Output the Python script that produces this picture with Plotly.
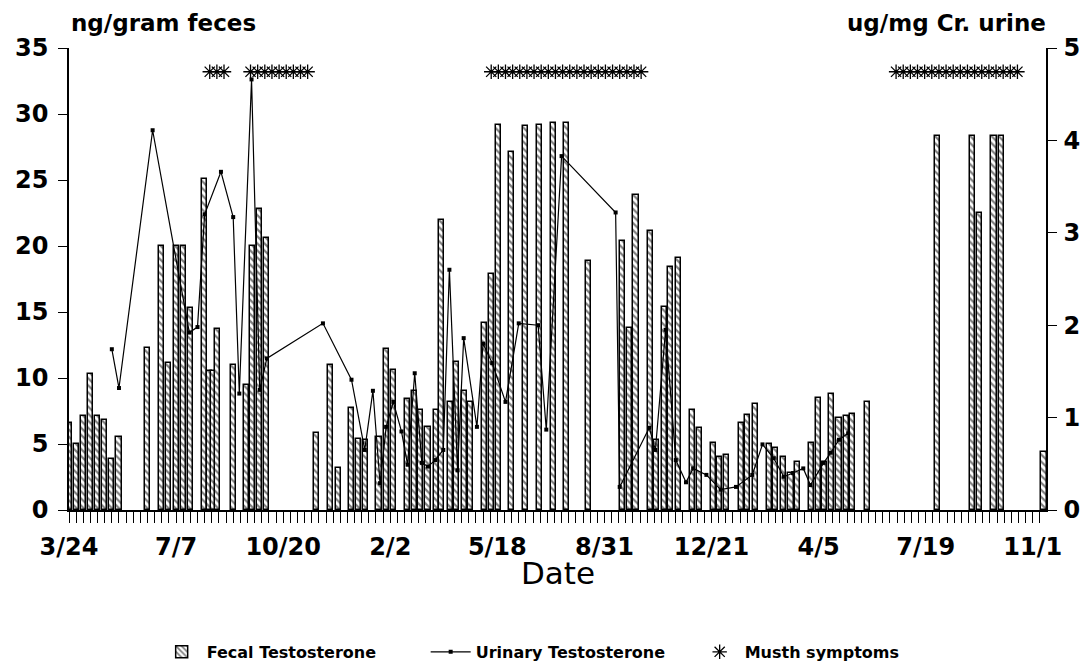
import plotly.graph_objects as go

# Date labels along the x axis (every 15 weeks) and their day offsets from 3/24
tick_days = [0, 105, 210, 315, 420, 525, 630, 735, 840, 945]
tick_labels = ["3/24", "7/7", "10/20", "2/2", "5/18", "8/31", "12/21", "4/5", "7/19", "11/1"]

# Fecal testosterone (ng/gram feces): sample day and value
fecal_days = [0, 7, 14, 21, 28, 35, 42, 49,
              77, 91, 98, 105, 112, 119, 133, 138, 142, 146, 161, 174, 180, 187, 194,
              243, 256, 264, 277, 284, 291, 304, 311, 318, 332, 339, 345, 352, 360, 365,
              374, 380, 388, 394, 407, 414, 421, 434, 448, 461, 475, 488, 509,
              543, 550, 556, 570, 576, 584, 590, 598, 611, 618, 632, 638, 645, 659, 665,
              673, 687, 693, 701, 708, 714, 728, 735, 741, 748, 755, 762, 768, 783,
              852, 886, 893, 907, 914, 956]
fecal_values = [6.6, 5.0, 7.1, 10.3, 7.1, 6.8, 3.9, 5.5,
                12.3, 20.0, 11.1, 20.0, 20.0, 15.3, 25.1, 10.5, 10.5, 13.7, 11.0, 9.5, 20.0, 22.8, 20.6,
                5.8, 11.0, 3.2, 7.7, 5.4, 5.3, 5.5, 12.2, 10.6, 8.4, 9.0, 7.6, 6.3, 7.6, 22.0,
                8.2, 11.2, 9.0, 8.2, 14.2, 17.9, 29.2, 27.1, 29.1, 29.2, 29.3, 29.3, 18.9,
                20.4, 13.8, 23.9, 21.1, 5.3, 15.4, 18.4, 19.1, 7.6, 6.2, 5.1, 4.0, 4.2, 6.6, 7.2,
                8.0, 5.0, 4.7, 4.0, 2.8, 3.6, 5.1, 8.5, 3.6, 8.8, 7.0, 7.1, 7.3, 8.2,
                28.3, 28.3, 22.5, 28.3, 28.3, 4.4]

# Urinary testosterone (ug/mg Cr. urine): sample day and value
urine_days = [42, 49, 82, 118, 126, 133, 149, 161, 167, 179, 187, 194,
              249, 277, 290, 298, 305, 311, 318, 326, 332, 339, 346, 352, 359, 367,
              373, 381, 387, 400, 406, 415, 428, 441, 460, 468, 483,
              536, 540, 569, 575, 585, 595, 605, 612, 625, 639, 654, 670, 680, 691,
              701, 710, 720, 727, 740, 747, 755, 764]
urine_values = [1.74, 1.32, 4.11, 1.92, 1.98, 3.20, 3.66, 3.17, 1.26, 4.66, 1.30, 1.64,
                2.02, 1.41, 0.65, 1.29, 0.29, 0.90, 1.17, 0.85, 0.49, 1.48, 0.51, 0.47, 0.54, 0.65,
                2.60, 0.43, 1.86, 0.90, 1.80, 1.59, 1.17, 2.02, 2.00, 0.87, 3.83,
                3.22, 0.25, 0.89, 0.65, 1.95, 0.54, 0.30, 0.45, 0.38, 0.22, 0.25, 0.38, 0.71, 0.56,
                0.36, 0.40, 0.45, 0.27, 0.51, 0.62, 0.76, 0.83]

# Weeks with musth symptoms
musth_days = ([138, 145, 152]
              + [178, 185, 192, 199, 206, 213, 220, 227, 234]
              + [414, 421, 428, 435, 442, 449, 456, 463, 470, 477, 484, 491,
                 498, 505, 512, 519, 526, 533, 540, 547, 554, 561]
              + [811, 818, 825, 832, 839, 846, 853, 860, 867, 874, 881, 888,
                 895, 902, 909, 916, 923, 930])
musth_level = 33.2

FONT = "DejaVu Sans"
INK = "black"

fig = go.Figure()

fig.add_trace(go.Bar(
    x=fecal_days, y=fecal_values, width=5,
    name="Fecal Testosterone",
    marker=dict(
        color="white",
        line=dict(color=INK, width=1.5),
        pattern=dict(shape="\\", fgcolor=INK, bgcolor="white", size=5, solidity=0.45),
    ),
    yaxis="y",
))

fig.add_trace(go.Scatter(
    x=urine_days, y=urine_values, mode="lines+markers",
    name="Urinary Testosterone",
    line=dict(color=INK, width=1.2),
    marker=dict(symbol="square", size=4, color=INK),
    yaxis="y2",
))

fig.add_trace(go.Scatter(
    x=musth_days, y=[musth_level] * len(musth_days), mode="markers",
    name="Musth symptoms",
    marker=dict(symbol="asterisk", size=12, line=dict(color=INK, width=1.3), color=INK),
    yaxis="y",
    cliponaxis=False,
))

tick_font = dict(family=FONT, size=24, color=INK, weight="bold")
title_font = dict(family=FONT, size=23, color=INK, weight="bold")

fig.update_layout(
    width=1088, height=670,
    margin=dict(l=69, r=42, t=48, b=160, autoexpand=False),
    paper_bgcolor="white", plot_bgcolor="white",
    bargap=0, barmode="overlay",
    showlegend=True,
    legend=dict(
        orientation="h", xref="container", yref="container",
        x=0.144, y=0.027, xanchor="left", yanchor="middle",
        font=dict(family=FONT, size=16, color=INK, weight="bold"),
        entrywidth=214, itemwidth=40,
        bgcolor="rgba(0,0,0,0)",
    ),
    xaxis=dict(
        range=[0, 958], automargin=False,
        tickmode="array", tickvals=tick_days, ticktext=tick_labels,
        ticks="outside", ticklen=11, tickwidth=1.3, tickcolor=INK,
        minor=dict(tickmode="linear", tick0=0, dtick=7, ticks="outside",
                   ticklen=11, tickwidth=1.3, tickcolor=INK, showgrid=False),
        showline=True, linecolor=INK, linewidth=1.5,
        showgrid=False, zeroline=False,
        tickfont=tick_font, ticklabelstandoff=3,
    ),
    yaxis=dict(
        range=[0, 35], automargin=False,
        tickmode="array", tickvals=[0, 5, 10, 15, 20, 25, 30, 35],
        ticks="outside", ticklen=9, tickwidth=1.3, tickcolor=INK,
        showline=True, linecolor=INK, linewidth=1.5,
        showgrid=False, zeroline=False,
        tickfont=tick_font, ticklabelstandoff=5,
    ),
    yaxis2=dict(
        range=[0, 5], overlaying="y", side="right", automargin=False,
        tickmode="array", tickvals=[0, 1, 2, 3, 4, 5],
        ticks="outside", ticklen=9, tickwidth=1.3, tickcolor=INK,
        showline=True, linecolor=INK, linewidth=1.5,
        showgrid=False, zeroline=False,
        tickfont=tick_font, ticklabelstandoff=2,
    ),
    annotations=[
        dict(text="ng/gram feces", xref="paper", yref="paper", x=0.0, y=1.055,
             xanchor="left", yanchor="middle", showarrow=False, font=title_font),
        dict(text="ug/mg Cr. urine", xref="paper", yref="paper", x=1.002, y=1.055,
             xanchor="right", yanchor="middle", showarrow=False, font=title_font),
        dict(text="Date", xref="paper", yref="paper", x=0.5, y=-0.136,
             xanchor="center", yanchor="middle", showarrow=False,
             font=dict(family=FONT, size=31, color=INK)),
    ],
)

fig.write_html("out.html")
